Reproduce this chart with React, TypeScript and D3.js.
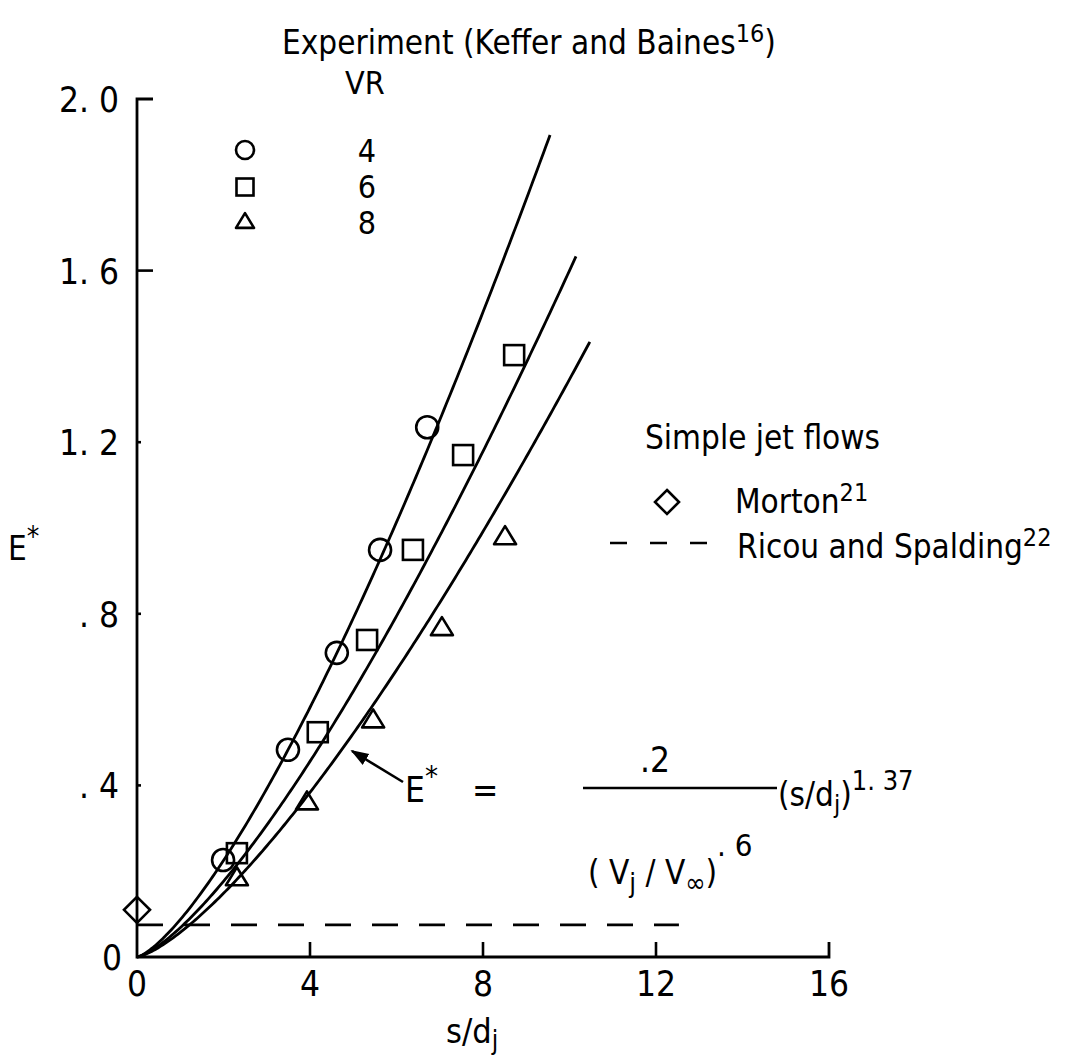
import React from "react";
import * as d3 from "d3";

// Measured entrainment data, Keffer and Baines: [s/dj, E*]
const vr4Points: [number, number][] = [
  [1.99, 0.226], [3.49, 0.483], [4.62, 0.709], [5.62, 0.949], [6.71, 1.235],
];
const vr6Points: [number, number][] = [
  [2.31, 0.242], [4.18, 0.524], [5.32, 0.739], [6.38, 0.949], [7.54, 1.17], [8.72, 1.403],
];
const vr8Points: [number, number][] = [
  [2.31, 0.184], [3.93, 0.361], [5.46, 0.552], [7.05, 0.767], [8.51, 0.979],
];
// Simple jet flows
const mortonPoint: [number, number] = [0, 0.11];
const ricouSpaldingLevel = 0.075;
const ricouSpaldingExtent: [number, number] = [0, 12.53];

// Correlation E* = .2 / VR^.6 * (s/dj)^1.37, drawn for each velocity ratio
const correlationCoef = 0.2;
const vrExponent = 0.6;
const sExponent = 1.37;
const velocityRatios = [4, 6, 8];
const curveEnds = [9.55, 10.15, 10.47];

const xTicks = [0, 4, 8, 12, 16];
const yTicks = [0, 0.4, 0.8, 1.2, 1.6, 2.0];
const yTickLabels = ["0", ". 4", ". 8", "1. 2", "1. 6", "2. 0"];

const FONT = "'DejaVu Sans Condensed', 'Liberation Sans Narrow', 'DejaVu Sans', sans-serif";

export default function App() {
  const W = 1081;
  const H = 1059;
  const x = d3.scaleLinear().domain([0, 16]).range([137, 829]);
  const y = d3.scaleLinear().domain([0, 2]).range([957, 99]);

  const line = d3
    .line<[number, number]>()
    .x((d) => x(d[0]))
    .y((d) => y(d[1]))
    .curve(d3.curveMonotoneX);

  const curves = velocityRatios.map((vr, i) => {
    const k = correlationCoef / Math.pow(vr, vrExponent);
    const xs = d3.range(0, curveEnds[i], 0.05).concat([curveEnds[i]]);
    const pts = xs.map((s) => [s, k * Math.pow(s, sExponent)] as [number, number]);
    return line(pts) as string;
  });

  const sw = 2.6;
  const circlePath = (cx: number, cy: number, r: number) => (
    <circle cx={cx} cy={cy} r={r} fill="none" stroke="#000" strokeWidth={sw} />
  );
  const squarePath = (cx: number, cy: number, s: number) => (
    <rect x={cx - s / 2} y={cy - s / 2} width={s} height={s} fill="none" stroke="#000" strokeWidth={sw} />
  );
  const trianglePath = (cx: number, cy: number, s: number) => {
    const h = s * 0.82;
    return (
      <path
        d={`M${cx},${cy - h * 0.6}L${cx + s / 2},${cy + h * 0.4}L${cx - s / 2},${cy + h * 0.4}Z`}
        fill="none"
        stroke="#000"
        strokeWidth={sw}
        strokeLinejoin="round"
      />
    );
  };
  const diamondPath = (cx: number, cy: number, r: number) => (
    <path
      d={`M${cx},${cy - r}L${cx + r},${cy}L${cx},${cy + r}L${cx - r},${cy}Z`}
      fill="none"
      stroke="#000"
      strokeWidth={sw}
    />
  );

  const textStyle: React.CSSProperties = { fontFamily: FONT, fill: "#000" };

  return (
    <svg
      width={W}
      height={H}
      viewBox={`0 0 ${W} ${H}`}
      style={{ position: "absolute", left: 0, top: 0, background: "#fff" }}
    >
      <rect width={W} height={H} fill="#fff" />

      {/* axes */}
      <path
        d={`M${x(0) + 16},${y(2)}H${x(0)}V${y(0)}H${x(16)}V${y(0) - 15}`}
        fill="none"
        stroke="#000"
        strokeWidth={2.8}
      />
      {yTicks.slice(1, 5).map((t) => (
        <line
          key={`yt${t}`}
          x1={x(0)}
          x2={x(0) + (t >= 1.6 ? 16 : 4)}
          y1={y(t)}
          y2={y(t)}
          stroke="#000"
          strokeWidth={2.6}
        />
      ))}
      {xTicks.slice(1, 4).map((t) => (
        <line key={`xt${t}`} x1={x(t)} x2={x(t)} y1={y(0)} y2={y(0) - 15} stroke="#000" strokeWidth={2.6} />
      ))}

      {/* tick labels */}
      {yTicks.map((t, i) => (
        <text
          key={`yl${t}`}
          x={t === 0 ? 122 : 119}
          y={y(t) + 13}
          textAnchor="end"
          fontSize={35}
          style={textStyle}
        >
          {yTickLabels[i]}
        </text>
      ))}
      {xTicks.map((t) => (
        <text key={`xl${t}`} x={x(t)} y={y(0) + 39} textAnchor="middle" fontSize={35} style={textStyle}>
          {t}
        </text>
      ))}

      {/* axis titles */}
      <text x={8} y={560} fontSize={33} style={textStyle}>
        E<tspan dy={-14} fontSize={28}>*</tspan>
      </text>
      <text x={446} y={1043} fontSize={34} style={textStyle}>
        s/d<tspan dy={6} fontSize={26}>j</tspan>
      </text>

      {/* Ricou and Spalding level */}
      <line
        x1={x(ricouSpaldingExtent[0])}
        x2={x(ricouSpaldingExtent[1])}
        y1={y(ricouSpaldingLevel)}
        y2={y(ricouSpaldingLevel)}
        stroke="#000"
        strokeWidth={2.6}
        strokeDasharray="26,21"
      />

      {/* correlation curves */}
      {curves.map((d, i) => (
        <path key={`c${i}`} d={d} fill="none" stroke="#000" strokeWidth={2.8} />
      ))}

      {/* data markers */}
      {vr4Points.map((p, i) => (
        <g key={`a${i}`}>{circlePath(x(p[0]), y(p[1]), 11)}</g>
      ))}
      {vr6Points.map((p, i) => (
        <g key={`b${i}`}>{squarePath(x(p[0]), y(p[1]), 20)}</g>
      ))}
      {vr8Points.map((p, i) => (
        <g key={`t${i}`}>{trianglePath(x(p[0]), y(p[1]), 22)}</g>
      ))}
      {diamondPath(x(mortonPoint[0]), y(mortonPoint[1]), 13)}

      {/* experiment legend */}
      <text x={282} y={54} fontSize={33} style={textStyle}>
        Experiment (Keffer and Baines<tspan dy={-12} fontSize={25}>16</tspan>
        <tspan dy={12}>)</tspan>
      </text>
      <text x={345} y={94} fontSize={32} style={textStyle}>
        VR
      </text>
      {circlePath(245, 150, 9)}
      {squarePath(245, 187, 17)}
      {trianglePath(245, 222, 18)}
      {velocityRatios.map((vr, i) => (
        <text key={`lv${vr}`} x={367} y={162 + i * 36} textAnchor="middle" fontSize={32} style={textStyle}>
          {vr}
        </text>
      ))}

      {/* simple jet flows legend */}
      <text x={645} y={449} fontSize={33} style={textStyle}>
        Simple jet flows
      </text>
      {diamondPath(667, 502, 12)}
      <text x={735} y={513} fontSize={33} style={textStyle}>
        Morton<tspan dy={-12} fontSize={25}>21</tspan>
      </text>
      <line x1={610} x2={708} y1={543} y2={543} stroke="#000" strokeWidth={2.4} strokeDasharray="17,23" />
      <text x={737} y={558} fontSize={33} style={textStyle}>
        Ricou and Spalding<tspan dy={-12} fontSize={25}>22</tspan>
      </text>

      {/* correlation label with arrow */}
      <defs>
        <marker id="arrowHead" viewBox="0 0 10 10" refX={9} refY={5} markerWidth={7} markerHeight={7} orient="auto">
          <path d="M0,1.5L10,5L0,8.5Z" fill="#000" />
        </marker>
      </defs>
      <line x1={403} y1={782} x2={352} y2={751} stroke="#000" strokeWidth={2.6} markerEnd="url(#arrowHead)" />
      <text x={405} y={802} fontSize={35} style={textStyle}>
        E<tspan dy={-16} fontSize={29}>*</tspan>
      </text>
      <text x={472} y={802} fontSize={35} style={textStyle}>
        =
      </text>
      <text x={655} y={772} textAnchor="middle" fontSize={35} style={textStyle}>
        .2
      </text>
      <line x1={583} x2={777} y1={788} y2={788} stroke="#000" strokeWidth={2.4} />
      <text x={588} y={884} fontSize={33} style={textStyle}>
        ( V<tspan dy={8} fontSize={27}>j</tspan>
        <tspan dy={-8}> / V</tspan>
        <tspan dy={8} fontSize={27}>∞</tspan>
        <tspan dy={-8}>)</tspan>
        <tspan dy={-28} fontSize={31}>. 6</tspan>
      </text>
      <text x={778} y={806} fontSize={33} style={textStyle}>
        (s/d<tspan dy={7} fontSize={25}>j</tspan>
        <tspan dy={-7}>)</tspan>
        <tspan dy={-16} fontSize={27}>1. 37</tspan>
      </text>
    </svg>
  );
}
